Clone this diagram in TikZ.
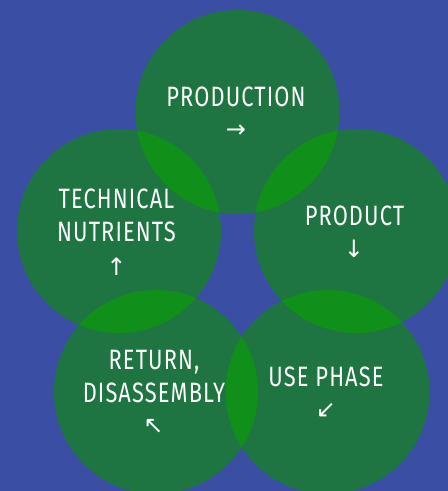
\documentclass[tikz,border=0pt]{standalone}
\usepackage{fontspec}
\setmainfont{Fira Sans}[FakeStretch=0.78, LetterSpace=4]
\newfontfamily\arrowfont{DejaVu Sans}
\definecolor{bgblue}{HTML}{3A4FA3}
\definecolor{ringgreen}{HTML}{1F7541}
\definecolor{lensgreen}{HTML}{10901A}
\def\rad{102}

\begin{document}
\begin{tikzpicture}[x=1pt, y=-1pt,
    cycletext/.style={text=white, font=\fontsize{28}{33}\selectfont, align=center, inner sep=0pt},
    tip/.style={text=white, font=\arrowfont\fontsize{24}{24}\selectfont, inner sep=0pt}]
    \fill[bgblue] (0,0) rectangle (448,491);
    \useasboundingbox (0,0) rectangle (448,491);

    \coordinate (production) at (237.5,112);
    \coordinate (technical) at (119,231);
    \coordinate (product) at (356,231);
    \coordinate (return) at (156,392);
    \coordinate (usephase) at (327.5,392);

    \foreach \c in {production, technical, product, return, usephase} {
      \fill[ringgreen] (\c) circle (\rad pt);
    }
    % overlaps
    \foreach \a/\b in {production/technical, production/product, technical/return, product/usephase, return/usephase} {
      \begin{scope}
        \clip (\a) circle (\rad pt);
        \fill[lensgreen] (\b) circle (\rad pt);
      \end{scope}
    }

    \node[cycletext] (prodtext) at (236,97) {PRODUCTION};
    \node[tip] (prodtip) at (236,131) {→};
    \node[cycletext] (producttext) at (354.5,216) {PRODUCT};
    \node[tip] (producttip) at (354,249) {↓};
    \node[cycletext] (usetext) at (326,377) {USE PHASE};
    \node[tip] (usetip) at (326,410) {↙};
    \node[cycletext] (returntext) at (154,377) {RETURN,\\DISASSEMBLY};
    \node[tip] (returntip) at (153.5,426) {↖};
    \node[cycletext] (techtext) at (116.5,215.5) {TECHNICAL\\NUTRIENTS};
    \node[tip] (techtip) at (116.5,266.5) {↑};
\end{tikzpicture}
\end{document}
